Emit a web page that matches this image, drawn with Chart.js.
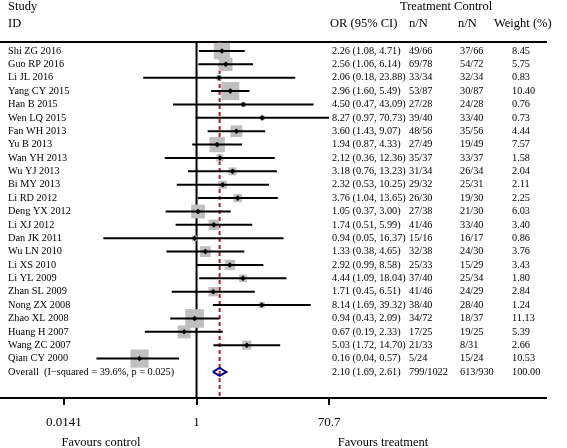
<!DOCTYPE html>
<html>
<head>
<meta charset="utf-8">
<script src="https://cdn.jsdelivr.net/npm/chart.js@4.4.1/dist/chart.umd.min.js"></script>
<style>
  html, body { margin: 0; padding: 0; background: #ffffff; }
  #wrap { width: 567px; height: 448px; }
</style>
</head>
<body>
<div id="wrap"><canvas id="forest" width="567" height="448"></canvas></div>
<script>
// Study data
const studies = ['Shi ZG 2016', 'Guo RP 2016', 'Li JL 2016', 'Yang CY 2015', 'Han B 2015', 'Wen LQ 2015',
    'Fan WH 2013', 'Yu B 2013', 'Wan YH 2013', 'Wu YJ 2013', 'Bi MY 2013', 'Li RD 2012', 'Deng YX 2012',
    'Li XJ 2012', 'Dan JK 2011', 'Wu LN 2010', 'Li XS 2010', 'Li YL 2009', 'Zhan SL 2009', 'Nong ZX 2008',
    'Zhao XL 2008', 'Huang H 2007', 'Wang ZC 2007', 'Qian CY 2000'];
const oddsRatio = [2.26, 2.56, 2.06, 2.96, 4.50, 8.27, 3.60, 1.94, 2.12, 3.18, 2.32, 3.76, 1.05,
    1.74, 0.94, 1.33, 2.92, 4.44, 1.71, 8.14, 0.94, 0.67, 5.03, 0.16];
const ciLower = [1.08, 1.06, 0.18, 1.60, 0.47, 0.97, 1.43, 0.87, 0.36, 0.76, 0.53, 1.04, 0.37,
    0.51, 0.05, 0.38, 0.99, 1.09, 0.45, 1.69, 0.43, 0.19, 1.72, 0.04];
const ciUpper = [4.71, 6.14, 23.88, 5.49, 43.09, 70.73, 9.07, 4.33, 12.36, 13.23, 10.25, 13.65, 3.00,
    5.99, 16.37, 4.65, 8.58, 18.04, 6.51, 39.32, 2.09, 2.33, 14.70, 0.57];
const treatment = ['49/66', '69/78', '33/34', '53/87', '27/28', '39/40', '48/56', '27/49', '35/37', '31/34',
    '29/32', '26/30', '27/38', '41/46', '15/16', '32/38', '25/33', '37/40', '41/46', '38/40', '34/72',
    '17/25', '21/33', '5/24'];
const control = ['37/66', '54/72', '32/34', '30/87', '24/28', '33/40', '35/56', '19/49', '33/37', '26/34',
    '25/31', '19/30', '21/30', '33/40', '16/17', '24/30', '15/29', '25/34', '24/29', '28/40', '18/37',
    '19/25', '8/31', '15/24'];
const weights = [8.45, 5.75, 0.83, 10.40, 0.76, 0.73, 4.44, 7.57, 1.58, 2.04, 2.11, 2.25, 6.03,
    3.40, 0.86, 3.76, 3.43, 1.80, 2.84, 1.24, 11.13, 5.39, 2.66, 10.53];

// Pooled estimate
const overallLabel = 'Overall  (I\u2212squared = 39.6%, p = 0.025)';
const overallOR = 2.10;
const overallLower = 1.69;
const overallUpper = 2.61;
const overallTreatment = '799/1022';
const overallControl = '613/930';
const overallWeight = 100.00;

// Axis tick values
const tickValues = [0.0141, 1, 70.7];

// Layout constants
const X_MIN = 0.001803;
const X_MAX = 75700;
const Y_MIN = -0.673;
const Y_MAX = 25.95;
const SERIF = '"Liberation Serif", "Times New Roman", serif';

const overallRow = studies.length;
const fmt = v => v.toFixed(2);

// one black CI segment per study
const ciDatasets = studies.map((s, i) => ({
    type: 'line',
    data: [{ x: ciLower[i], y: i }, { x: ciUpper[i], y: i }],
    borderColor: '#000000',
    borderWidth: 2,
    pointRadius: 0,
    order: 2
}));

const datasets = [
    {
        // point estimate markers
        type: 'scatter',
        data: oddsRatio.map((v, i) => ({ x: v, y: i })),
        pointStyle: 'rectRot',
        pointRadius: 2.8,
        backgroundColor: '#000000',
        borderWidth: 0,
        order: 0
    },
    {
        // pooled diamond
        type: 'line',
        data: [
            { x: overallLower, y: overallRow },
            { x: overallOR, y: overallRow - 0.3 },
            { x: overallUpper, y: overallRow },
            { x: overallOR, y: overallRow + 0.3 },
            { x: overallLower, y: overallRow }
        ],
        borderColor: '#000080',
        backgroundColor: '#ffffff',
        borderWidth: 2,
        fill: true,
        pointRadius: 0,
        tension: 0,
        order: 1
    },
    ...ciDatasets,
    {
        // weight boxes
        type: 'scatter',
        data: weights.map((w, i) => ({ x: oddsRatio[i], y: i })),
        pointStyle: 'rect',
        pointRadius: weights.map(w => Math.sqrt(w) * 5.6 / Math.SQRT2),
        backgroundColor: '#bfbfbf',
        borderWidth: 0,
        order: 3
    },
    {
        // pooled estimate reference line
        type: 'line',
        data: [{ x: overallOR, y: Y_MIN }, { x: overallOR, y: Y_MAX }],
        borderColor: '#a8202c',
        borderWidth: 2,
        borderDash: [4, 3],
        pointRadius: 0,
        order: 4
    },
    {
        // line of no effect
        type: 'line',
        data: [{ x: 1, y: Y_MIN }, { x: 1, y: Y_MAX }],
        borderColor: '#000000',
        borderWidth: 2,
        pointRadius: 0,
        order: 5
    }
];

// table text, headers and favours labels
const tableText = {
    id: 'tableText',
    afterDraw(chart) {
        const ctx = chart.ctx;
        const yScale = chart.scales.y;
        ctx.save();
        ctx.fillStyle = '#000000';
        ctx.textAlign = 'left';

        // header
        ctx.font = '12.5px ' + SERIF;
        ctx.textBaseline = 'alphabetic';
        ctx.fillText('Study', 8, 10);
        ctx.fillText('ID', 8, 27);
        ctx.fillText('Treatment Control', 400, 10);
        ctx.fillText('OR (95% CI)', 330, 27);
        ctx.fillText('n/N', 409, 27);
        ctx.fillText('n/N', 458, 27);
        ctx.fillText('Weight (%)', 494, 27);

        // rows
        ctx.font = '10.3px ' + SERIF;
        ctx.textBaseline = 'middle';
        studies.forEach((s, i) => {
            const y = yScale.getPixelForValue(i);
            ctx.fillText(s, 8, y);
            ctx.fillText(`${fmt(oddsRatio[i])} (${fmt(ciLower[i])}, ${fmt(ciUpper[i])})`, 332, y);
            ctx.fillText(treatment[i], 409, y);
            ctx.fillText(control[i], 460, y);
            ctx.fillText(fmt(weights[i]), 512, y);
        });
        const yo = yScale.getPixelForValue(overallRow);
        ctx.fillText(overallLabel, 8, yo);
        ctx.fillText(`${fmt(overallOR)} (${fmt(overallLower)}, ${fmt(overallUpper)})`, 332, yo);
        ctx.fillText(overallTreatment, 409, yo);
        ctx.fillText(overallControl, 460, yo);
        ctx.fillText(fmt(overallWeight), 512, yo);

        // favours labels
        ctx.font = '12.5px ' + SERIF;
        ctx.textAlign = 'center';
        ctx.fillText('Favours control', 101, 443);
        ctx.fillText('Favours treatment', 383, 443);
        ctx.restore();
    }
};

new Chart(document.getElementById('forest'), {
    data: { datasets: datasets },
    options: {
        responsive: false,
        animation: false,
        layout: { autoPadding: false, padding: { left: 0, right: 21, top: 42, bottom: 0 } },
        plugins: {
            legend: { display: false },
            tooltip: { enabled: false }
        },
        scales: {
            x: {
                type: 'logarithmic',
                position: 'bottom',
                min: X_MIN,
                max: X_MAX,
                afterBuildTicks: scale => { scale.ticks = tickValues.map(v => ({ value: v })); },
                afterFit: scale => { scale.height = 50; },
                border: { display: true, color: '#000000', width: 2 },
                grid: { drawOnChartArea: false, drawTicks: true, tickLength: 7, color: '#000000', lineWidth: 2 },
                ticks: {
                    color: '#000000',
                    padding: 10,
                    maxRotation: 0,
                    autoSkip: false,
                    font: { family: SERIF, size: 13 },
                    callback: v => String(v)
                }
            },
            xTop: {
                type: 'logarithmic',
                position: 'top',
                min: X_MIN,
                max: X_MAX,
                afterFit: scale => { scale.height = 0; },
                border: { display: true, color: '#000000', width: 2 },
                grid: { display: false },
                ticks: { display: false }
            },
            y: {
                type: 'linear',
                reverse: true,
                min: Y_MIN,
                max: Y_MAX,
                display: false
            }
        }
    },
    plugins: [tableText]
});
</script>
</body>
</html>
